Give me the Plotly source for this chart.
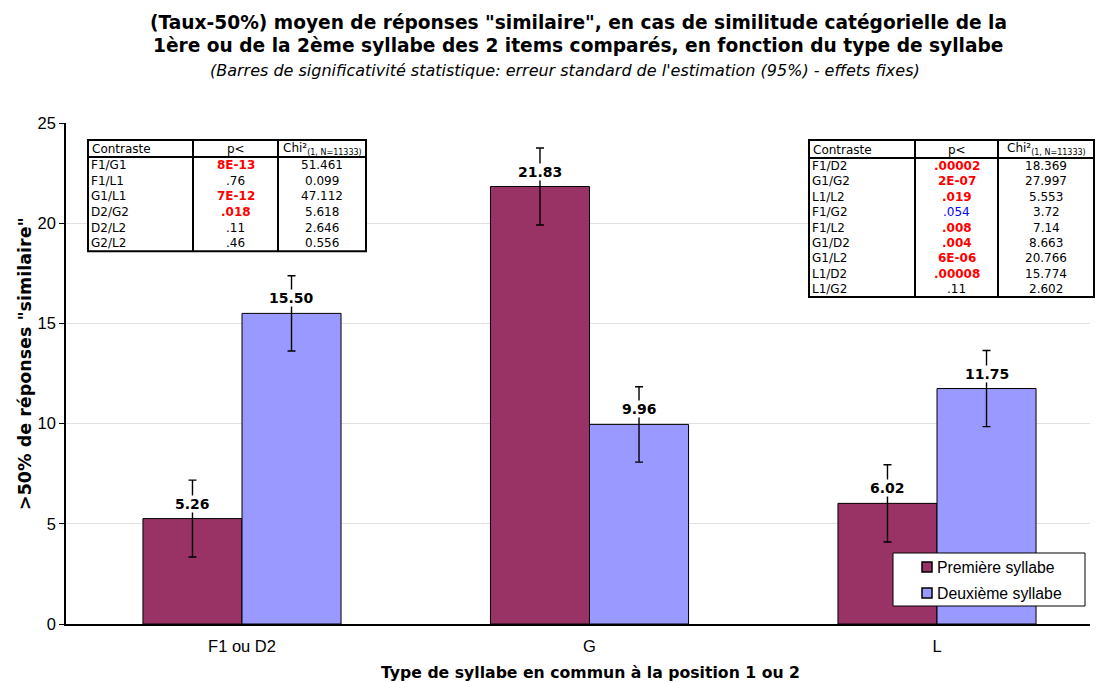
import plotly.graph_objects as go

# ---------------- data ----------------
categories = ["F1 ou D2", "G", "L"]
premiere = [5.26, 21.83, 6.02]
deuxieme = [15.50, 9.96, 11.75]
err_premiere = [1.92, 1.92, 1.93]
err_deuxieme = [1.88, 1.88, 1.90]
series_names = ["Première syllabe", "Deuxième syllabe"]

table1_contrast = ["F1/G1", "F1/L1", "G1/L1", "D2/G2", "D2/L2", "G2/L2"]
table1_p = ["8E-13", ".76", "7E-12", ".018", ".11", ".46"]
table1_chi = ["51.461", "0.099", "47.112", "5.618", "2.646", "0.556"]
table1_sig = ["red", "ns", "red", "red", "ns", "ns"]

table2_contrast = ["F1/D2", "G1/G2", "L1/L2", "F1/G2", "F1/L2", "G1/D2", "G1/L2", "L1/D2", "L1/G2"]
table2_p = [".00002", "2E-07", ".019", ".054", ".008", ".004", "6E-06", ".00008", ".11"]
table2_chi = ["18.369", "27.997", "5.553", "3.72", "7.14", "8.663", "20.766", "15.774", "2.602"]
table2_sig = ["red", "red", "red", "blue", "red", "red", "red", "red", "ns"]

title_l1 = "(Taux-50%) moyen de réponses \"similaire\", en cas de similitude catégorielle de la"
title_l2 = "1ère ou de la 2ème syllabe des 2 items comparés, en fonction du type de syllabe"
subtitle = "(Barres de significativité statistique: erreur standard de l'estimation (95%) - effets fixes)"
x_title = "Type de syllabe en commun à la position 1 ou 2"
y_title = ">50% de réponses \"similaire\""

# ---------------- layout geometry ----------------
W, H = 1096, 682
L_PX, R_PX, T_PX, B_PX = 66, 1090, 123, 624
CAT_PX = 347.5
FIRST_CAT_PX = 242

def px(x):
    return (x - L_PX) / (R_PX - L_PX)

def py(y):
    return (B_PX - y) / (B_PX - T_PX)

colors = ["#993366", "#9999FF"]

fig = go.Figure()
for name, vals, errs, col in zip(series_names, [premiere, deuxieme],
                                 [err_premiere, err_deuxieme], colors):
    fig.add_trace(go.Bar(
        x=categories, y=vals, name=name,
        marker=dict(color=col, line=dict(color="black", width=1)),
        error_y=dict(type="data", array=errs, visible=True,
                     color="black", thickness=1.4, width=4),
    ))

annotations = []
shapes = []

# value labels (white background hides the middle of the error bar)
for si, vals in enumerate([premiere, deuxieme]):
    for ci, v in enumerate(vals):
        annotations.append(dict(
            x=ci, y=v, xref="x", yref="y", text="<b>%.2f</b>" % v,
            showarrow=False, yanchor="bottom", yshift=6,
            xshift=(-0.5 + si) * 99,
            font=dict(family="DejaVu Sans", size=14, color="black"),
            bgcolor="white", borderpad=0,
        ))

def add_table(x0, x1, y0, header_bottom, row_h, col1, col2, contr, pvals, chis, sigs):
    nrows = len(contr)
    y1 = header_bottom + nrows * row_h
    lw = 2
    shapes.append(dict(type="rect", xref="paper", yref="paper",
                       x0=px(x0), x1=px(x1), y0=py(y0), y1=py(y1),
                       line=dict(color="black", width=lw), fillcolor="white", layer="above"))
    for cx in (col1, col2):
        shapes.append(dict(type="line", xref="paper", yref="paper",
                           x0=px(cx), x1=px(cx), y0=py(y0), y1=py(y1),
                           line=dict(color="black", width=lw), layer="above"))
    shapes.append(dict(type="line", xref="paper", yref="paper",
                       x0=px(x0), x1=px(x1), y0=py(header_bottom), y1=py(header_bottom),
                       line=dict(color="black", width=lw), layer="above"))
    fnt = dict(family="DejaVu Sans", size=12, color="black")
    hy = (y0 + header_bottom) / 2 + 1
    annotations.append(dict(x=px(x0 + 2), y=py(hy), xref="paper", yref="paper",
                            text="Contraste", showarrow=False, xanchor="left",
                            yanchor="middle", font=fnt))
    annotations.append(dict(x=px((col1 + col2) / 2), y=py(hy), xref="paper", yref="paper",
                            text="p<", showarrow=False, xanchor="center",
                            yanchor="middle", font=fnt))
    annotations.append(dict(x=px((col2 + x1) / 2), y=py(hy - 1), xref="paper", yref="paper",
                            text="Chi²<sub><span style='font-size:8px'>(1, N=11333)</span></sub>",
                            showarrow=False, xanchor="center",
                            yanchor="middle", font=fnt))
    for i in range(nrows):
        cy = header_bottom + (i + 0.5) * row_h
        annotations.append(dict(x=px(x0 + 1), y=py(cy), xref="paper", yref="paper",
                                text=contr[i], showarrow=False, xanchor="left",
                                yanchor="middle", font=fnt))
        s = sigs[i]
        if s == "red":
            ptxt = "<b>%s</b>" % pvals[i]
            pf = dict(family="DejaVu Sans", size=12, color="#FF0000")
        elif s == "blue":
            ptxt = pvals[i]
            pf = dict(family="DejaVu Sans", size=12, color="#0000FF")
        else:
            ptxt = pvals[i]
            pf = fnt
        annotations.append(dict(x=px((col1 + col2) / 2), y=py(cy), xref="paper", yref="paper",
                                text=ptxt, showarrow=False, xanchor="center",
                                yanchor="middle", font=pf))
        annotations.append(dict(x=px((col2 + x1) / 2), y=py(cy), xref="paper", yref="paper",
                                text=chis[i], showarrow=False, xanchor="center",
                                yanchor="middle", font=fnt))

add_table(88, 366, 140, 157, 15.7, 193, 278,
          table1_contrast, table1_p, table1_chi, table1_sig)
add_table(809, 1094, 140, 158, 15.45, 915, 998,
          table2_contrast, table2_p, table2_chi, table2_sig)

# titles
cx_title = px(578)
annotations.append(dict(x=cx_title, y=py(22), xref="paper", yref="paper", xanchor="center",
                        yanchor="middle", showarrow=False, text="<b>%s</b>" % title_l1,
                        font=dict(family="DejaVu Sans", size=18.6, color="black")))
annotations.append(dict(x=cx_title, y=py(46), xref="paper", yref="paper", xanchor="center",
                        yanchor="middle", showarrow=False, text="<b>%s</b>" % title_l2,
                        font=dict(family="DejaVu Sans", size=18.6, color="black")))
annotations.append(dict(x=px(565), y=py(71), xref="paper", yref="paper", xanchor="center",
                        yanchor="middle", showarrow=False,
                        text="<i>%s</i>" % subtitle,
                        font=dict(family="DejaVu Sans", size=16, color="black")))

annotations.append(dict(x=px(590), y=py(672), xref="paper", yref="paper",
                        xanchor="center", yanchor="middle", showarrow=False,
                        text="<b>%s</b>" % x_title,
                        font=dict(family="DejaVu Sans", size=15.7, color="black")))
annotations.append(dict(x=px(25), y=py(364), xref="paper", yref="paper",
                        xanchor="center", yanchor="middle", showarrow=False,
                        textangle=-90, text="<b>%s</b>" % y_title,
                        font=dict(family="DejaVu Sans", size=17.5, color="black")))

# legend box
shapes.append(dict(type="rect", xref="paper", yref="paper",
                   x0=px(893), x1=px(1085), y0=py(553), y1=py(606),
                   line=dict(color="black", width=1), fillcolor="white", layer="above"))
for i, (name, col) in enumerate(zip(series_names, colors)):
    cy = 567 + i * 26
    shapes.append(dict(type="rect", xref="paper", yref="paper",
                       x0=px(922), x1=px(932), y0=py(cy - 5), y1=py(cy + 5),
                       line=dict(color="black", width=1.5), fillcolor=col, layer="above"))
    annotations.append(dict(x=px(935), y=py(cy), xref="paper", yref="paper",
                            xanchor="left", yanchor="middle", showarrow=False,
                            text=name, font=dict(family="Liberation Sans", size=15.8, color="black")))

x_lo = -(FIRST_CAT_PX - L_PX) / CAT_PX
x_hi = x_lo + (R_PX - L_PX) / CAT_PX

fig.update_layout(
    width=W, height=H,
    margin=dict(l=L_PX, r=W - R_PX, t=T_PX, b=H - B_PX, pad=0),
    paper_bgcolor="white", plot_bgcolor="white",
    barmode="group", bargap=0.43, bargroupgap=0,
    showlegend=False,
    xaxis=dict(range=[x_lo, x_hi], showgrid=False,
               showline=True, linecolor="black", linewidth=1.5,
               ticks="", tickfont=dict(family="Liberation Sans", size=16.5, color="black"),
               ticklabelstandoff=6),
    yaxis=dict(range=[0, 25], dtick=5, showgrid=True, gridcolor="#E0E0E0", gridwidth=1,
               showline=True, linecolor="black", linewidth=1.5, zeroline=False,
               ticks="outside", ticklen=5, tickcolor="black",
               tickfont=dict(family="Liberation Sans", size=16.5, color="black")),
    annotations=annotations, shapes=shapes,
    font=dict(family="Liberation Sans"),
)

fig.write_html("out.html", config={"displayModeBar": False},
               post_script="document.body.style.margin='0px';document.body.style.overflow='hidden';")
